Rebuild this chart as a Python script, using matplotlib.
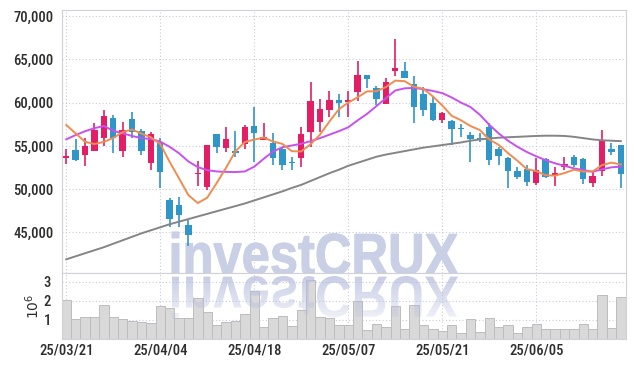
import matplotlib
matplotlib.use('Agg')
import matplotlib.pyplot as plt
import numpy as np
from matplotlib.textpath import TextPath
from matplotlib.font_manager import FontProperties, fontManager
from matplotlib.patches import PathPatch
from matplotlib.transforms import Affine2D, IdentityTransform, Bbox

# ---------------- data ----------------
tick_labels = ["25/03/21", "25/04/04", "25/04/18", "25/05/07", "25/05/21", "25/06/05"]

opens = [53650, 54500, 53980, 54400, 55900, 58200, 54400, 58100, 56700, 53000,
         55400, 48750, 48150, 45850, 51700, 50300, 56350, 54800, 54300, 55200,
         57300, 55700, 55300, 54700, 53100, 53550, 56650, 57800, 59150, 60300,
         60050, 61250, 63200, 61650, 59800, 63600, 63600, 62150, 61050, 59900,
         58050, 57850, 57000, 56250, 55950, 57200, 54650, 53650, 52150, 52300,
         50750, 53500, 51500, 52600, 53750, 53450, 50750, 52150, 54700, 55100]
closes = [53750, 53400, 54990, 56800, 58450, 55900, 56800, 56550, 54400, 56350,
          52000, 46500, 47000, 44700, 51850, 55100, 54900, 55850, 54200, 57200,
          56500, 56050, 53650, 52750, 53000, 56350, 60200, 59250, 60300, 60000,
          60300, 63200, 62700, 60400, 62350, 64050, 62900, 59500, 59150, 58000,
          58850, 56900, 56900, 55850, 55700, 53350, 53850, 52100, 51450, 50850,
          52200, 51450, 51900, 52900, 52800, 51150, 51500, 55550, 54350, 51750]
highs = [54640, 55800, 55900, 57600, 59150, 58600, 57750, 58950, 57000, 56650,
         55950, 49000, 49050, 46500, 53300, 55100, 56400, 57200, 56750, 57400,
         59450, 57650, 56500, 54800, 53750, 57200, 62400, 60400, 61350, 60960,
         61400, 64850, 63200, 61950, 62800, 67300, 64700, 63100, 61750, 60800,
         58900, 58050, 57530, 56650, 56520, 57600, 54900, 53700, 52600, 52800,
         53550, 53550, 52550, 53700, 54000, 53550, 52000, 56850, 55300, 55100]
lows = [52900, 53250, 52680, 54400, 55000, 54200, 53700, 55900, 54000, 52200,
        50100, 45600, 45650, 43400, 50400, 49850, 54200, 54300, 53750, 54600,
        53150, 55650, 52800, 52200, 52210, 52600, 54900, 56650, 58300, 58300,
        58300, 60200, 61650, 59700, 59800, 63100, 62850, 57700, 58450, 57900,
        57700, 55100, 56060, 53100, 55480, 52850, 52850, 50100, 51150, 50350,
        50500, 51250, 50350, 52200, 52600, 50600, 50200, 51550, 54000, 50100]

ma_short = [57410, 56450, 55480, 55220, 55470, 55910, 56590, 56900, 56420, 56000,
            55220, 53160, 51250, 49310, 48400, 49020, 50700, 52470, 54370, 55450,
            55730, 55960, 55520, 55230, 54390, 54360, 55190, 56310, 57820, 59220,
            60010, 60610, 61300, 61320, 61790, 62540, 62480, 61840, 61590, 60720,
            59680, 58480, 57960, 57300, 56840, 55740, 55130, 54170, 53290, 52320,
            52090, 51610, 51570, 51860, 52250, 52040, 52050, 52780, 53070, 52860]
ma_mid = [55760, 56250, 56700, 57050, 57300, 56750, 56450, 56150, 55900, 55800,
          55500, 54900, 54150, 53200, 52550, 52200, 52050, 52000, 51980, 52050,
          52600, 53500, 54350, 54850, 55050, 55250, 55550, 55900, 56300, 56700,
          57150, 57950, 58700, 59600, 60500, 61400, 61650, 61700, 61550, 61350,
          61100, 60600, 60000, 59500, 58600, 57450, 56450, 55600, 54900, 54300,
          53800, 53350, 52990, 52710, 52410, 52210, 52020, 52290, 52530, 52600]
ma_long = [41900, 42250, 42600, 42950, 43300, 43700, 44100, 44500, 44900, 45250,
           45600, 45950, 46250, 46550, 46850, 47150, 47450, 47750, 48050, 48350,
           48700, 49050, 49400, 49750, 50150, 50500, 50950, 51400, 51850, 52250,
           52700, 53050, 53400, 53750, 54000, 54200, 54400, 54600, 54800, 54950,
           55100, 55250, 55400, 55600, 55750, 55850, 55950, 56000, 56050, 56100,
           56150, 56180, 56180, 56150, 56050, 55900, 55750, 55650, 55600, 55550]

volume_millions = [2.07, 1.03, 1.18, 1.18, 1.77, 1.18, 1.03, 0.97, 0.92, 0.82,
                   1.72, 1.65, 1.13, 1.13, 2.17, 1.44, 0.73, 0.92, 0.97, 1.29,
                   2.54, 0.61, 1.08, 1.23, 0.66, 1.55, 3.11, 1.18, 1.08, 0.73,
                   0.73, 1.98, 0.45, 0.78, 0.61, 1.72, 0.50, 1.77, 0.73, 0.50,
                   0.40, 0.73, 0.31, 1.03, 0.37, 1.13, 0.61, 0.73, 0.31, 0.61,
                   0.78, 0.50, 0.50, 0.50, 0.50, 0.78, 0.50, 2.30, 0.56, 2.19]

# ---------------- style ----------------
PINK = '#e41e64'
BLUE = '#3096c8'
ORANGE = '#f08c50'
PURPLE = '#c850f0'
GRAY = '#858585'
GRID = '#c9cbdd'
SPINE = '#d0d0d8'
TXT = '#2e2e2e'
WM = '#c9cfe4'


def weight_num(w):
    if isinstance(w, (int, float)):
        return int(w)
    w = str(w).lower()
    table = {'normal': 400, 'regular': 400, 'book': 400, 'medium': 500,
             'semibold': 600, 'demibold': 600, 'bold': 700, 'heavy': 800,
             'black': 900, 'light': 300}
    return table.get(w, 400)


def pick_condensed():
    best, best_score = None, -1
    for f in fontManager.ttflist:
        if f.style != 'normal':
            continue
        wn = weight_num(f.weight)
        if wn not in (400, 500):
            continue
        nm = f.name
        st = str(f.stretch).lower()
        low = nm.lower()
        is_semi = 'semi' in low or 'semi' in st
        is_extra = 'extra' in low or 'ultra' in low or 'extra' in st or 'ultra' in st
        cond = ('condensed' in low or 'condensed' in st or 'narrow' in low)
        if not cond or is_extra:
            continue
        base = 10 if not is_semi else 5
        if 'noto sans' in low and 'cjk' not in low and 'mono' not in low:
            score = base + 4
        elif 'dejavu sans' in low and 'mono' not in low:
            score = base + 3
        elif 'roboto' in low and 'mono' not in low:
            score = base + 3
        elif 'open sans' in low:
            score = base + 2
        elif 'liberation sans' in low:
            score = base + 2
        else:
            score = base
        if wn == 500:
            score += 0.5
        if score > best_score:
            best, best_score = f.fname, score
    return best


cond_path = pick_condensed()
if cond_path:
    LBL = FontProperties(fname=cond_path, size=10.5)
else:
    LBL = FontProperties(family='DejaVu Sans', size=9.5)

WMFP = FontProperties(family='Liberation Sans', weight='bold', style='normal')

W, H = 634, 367
fig = plt.figure(figsize=(W / 100, H / 100), dpi=100)


def frac(x0, y0, x1, y1):
    return [x0 / W, 1 - y1 / H, (x1 - x0) / W, (y1 - y0) / H]


ax = fig.add_axes(frac(62, 10, 626, 273))
axv = fig.add_axes(frac(62, 273, 626, 339), sharex=ax)

n = len(closes)
x = np.arange(n)
o = np.array(opens, float)
c = np.array(closes, float)
hi = np.array(highs, float)
lo = np.array(lows, float)
up = c >= o
cols = np.where(up, PINK, BLUE)

# watermark (main text) behind the candles
tp = TextPath((0, 0), "investCRUX", size=100, prop=WMFP)
ext = tp.get_extents()
wx0, wx1 = 172, 458
wtop, wbase = 232, 275
sx = (wx1 - wx0) / ext.width
sy = (wbase - wtop) / ext.height
main_tr = Affine2D().translate(-ext.x0, -ext.y0).scale(sx, sy).translate(wx0, H - wbase)
wm_main = PathPatch(main_tr.transform_path(tp), facecolor=WM, edgecolor=WM, linewidth=0.8,
                    transform=IdentityTransform(), zorder=1, clip_on=False)
ax.add_patch(wm_main)

# grid / spines
for a in (ax, axv):
    a.set_axisbelow(True)
    a.grid(True, linestyle=(0, (1, 2)), color=GRID, linewidth=0.8)
    for s in a.spines.values():
        s.set_color(SPINE)
        s.set_linewidth(0.8)
    a.tick_params(length=0, colors=TXT)

# candles
ax.vlines(x, lo, hi, colors=cols, linewidth=1.2, zorder=3)
heights = np.maximum(np.abs(c - o), 180)
ax.bar(x, heights, bottom=np.minimum(o, c), width=0.68, color=cols, linewidth=0, zorder=4)

# moving averages
ax.plot(x, ma_long, color=GRAY, lw=1.4, zorder=5)
ax.plot(x, ma_mid, color=PURPLE, lw=1.4, zorder=5)
ax.plot(x, ma_short, color=ORANGE, lw=1.4, zorder=6)

ax.set_xlim(-0.45, 59.55)
ax.set_ylim(40320, 70700)
yt = [45000, 50000, 55000, 60000, 65000, 70000]
ax.set_yticks(yt)
ax.set_yticklabels([f"{v:,}" for v in yt])
ax.tick_params(axis='y', pad=6)
ax.tick_params(labelbottom=False)

# volume
axv.bar(x, volume_millions, width=1.0, color='#d9d9d9', edgecolor='#bdbdbd', linewidth=0.7, zorder=2)
axv.set_ylim(0, 3.47)
axv.set_yticks([1, 2, 3])
axv.set_yticklabels(['1', '2', '3'])
axv.tick_params(axis='y', pad=8)
axv.set_xticks(list(range(0, n, 10)))
axv.set_xticklabels(tick_labels)
axv.tick_params(axis='x', pad=3)
axv.set_ylabel(r'$10^6$', fontsize=10, color=TXT, labelpad=1)

for lbl in ax.get_yticklabels() + axv.get_yticklabels() + axv.get_xticklabels():
    lbl.set_fontproperties(LBL)

# reflection of the watermark, fading downward
refl_tr = Affine2D().translate(-ext.x0, -ext.y0).scale(sx, -sy).translate(wx0, H - (wbase + 1))
refl_path = refl_tr.transform_path(tp)
nstrip = 12
y_top_d = H - (wbase + 1)
y_bot_d = H - (wbase + 1 + (wbase - wtop))
for k in range(nstrip):
    ytop = y_top_d - (y_top_d - y_bot_d) * k / nstrip
    ybot = y_top_d - (y_top_d - y_bot_d) * (k + 1) / nstrip
    alpha = 0.72 - 0.5 * k / (nstrip - 1)
    p = PathPatch(refl_path, facecolor='#b4bcdc', edgecolor='none', alpha=alpha,
                  transform=IdentityTransform(), zorder=10)
    p.set_clip_box(Bbox.from_extents(0, ybot, W, ytop))
    p.set_clip_on(True)
    fig.add_artist(p)

fig.savefig('out.png', dpi=100)
